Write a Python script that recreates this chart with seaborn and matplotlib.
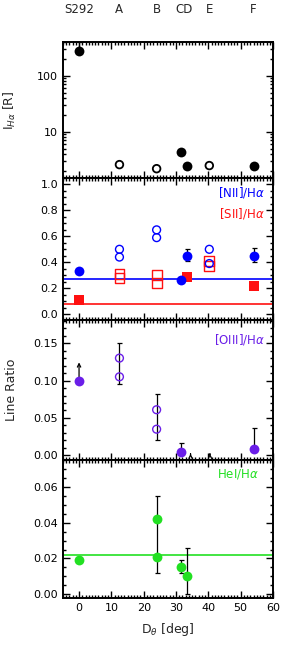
import numpy as np
import matplotlib
matplotlib.use("Agg")
import matplotlib.pyplot as plt
from matplotlib.ticker import MultipleLocator, LogLocator, NullFormatter
import seaborn as sns

# positions (deg) and labels of the regions along the top
region_x = [0, 12.4, 24, 32.4, 40.5, 54]
region_labels = ["S292", "A", "B", "CD", "E", "F"]

# H-alpha intensity [R]
iha_filled_x = [0, 31.4, 33.5, 54]
iha_filled_y = [275, 4.3, 2.5, 2.5]
iha_open_x = [12.5, 24, 40.3]
iha_open_y = [2.6, 2.2, 2.5]

# [NII]/Ha and [SII]/Ha
nii_filled_x = [0, 31.4, 33.5, 54]
nii_filled_y = [0.33, 0.26, 0.45, 0.45]
nii_open_x = [12.5, 12.5, 24, 24, 40.3, 40.3]
nii_open_y = [0.50, 0.44, 0.65, 0.59, 0.50, 0.39]
sii_filled_x = [0, 33.5, 54]
sii_filled_y = [0.11, 0.29, 0.22]
sii_open_x = [12.5, 12.5, 24, 24, 40.3, 40.3]
sii_open_y = [0.31, 0.28, 0.30, 0.24, 0.41, 0.37]
nii_mean = 0.27
sii_mean = 0.08

# [OIII]/Ha
oiii_filled_x = [0, 31.4, 54]
oiii_filled_y = [0.100, 0.004, 0.009]
oiii_open_x = [12.5, 12.5, 24, 24]
oiii_open_y = [0.130, 0.105, 0.061, 0.035]

# HeI/Ha
hei_x = [0, 24, 24, 31.4, 33.5]
hei_y = [0.019, 0.042, 0.021, 0.015, 0.010]
hei_mean = 0.022

BLUE = "#0000ff"
RED = "#ff1010"
PURPLE = "#6a1ee8"
GREEN = "#22e022"

sns.set_style("ticks")
plt.rcParams["font.family"] = ["DejaVu Sans"]
plt.rcParams["font.size"] = 8

fig = plt.figure(figsize=(2.82, 6.45), dpi=100)
left, width = 0.223, 0.745
ax1 = fig.add_axes([left, 0.724, width, 0.211])
ax2 = fig.add_axes([left, 0.504, width, 0.220], sharex=ax1)
ax3 = fig.add_axes([left, 0.287, width, 0.217], sharex=ax1)
ax4 = fig.add_axes([left, 0.073, width, 0.214], sharex=ax1)

for ax in (ax1, ax2, ax3, ax4):
    for sp in ax.spines.values():
        sp.set_linewidth(1.4)
        sp.set_color("black")
    ax.tick_params(which="both", direction="in", top=True, right=True,
                   width=1, labelsize=8, colors="black")
    ax.tick_params(which="major", length=5)
    ax.tick_params(which="minor", length=2.5)
    ax.xaxis.set_major_locator(MultipleLocator(10))
    ax.xaxis.set_minor_locator(MultipleLocator(1))
    ax.set_xlim(-5, 60)

ebkw = dict(fmt="none", ecolor="black", elinewidth=0.9, capsize=1.8, capthick=0.9)

# panel 1: intensity
ax1.set_yscale("log")
ax1.set_ylim(1.5, 400)
ax1.errorbar([0], [275], yerr=[[0], [120]], **ebkw)
sns.scatterplot(x=iha_filled_x, y=iha_filled_y, ax=ax1, color="black", s=50,
                edgecolor="black", linewidth=0, zorder=3)
sns.scatterplot(x=iha_open_x, y=iha_open_y, ax=ax1, marker="o", s=30,
                facecolors="none", edgecolor="black", linewidth=1.3, zorder=3)
ax1.yaxis.set_major_locator(LogLocator(base=10, numticks=5))
ax1.yaxis.set_minor_locator(LogLocator(base=10, subs=np.arange(2, 10), numticks=10))
ax1.yaxis.set_minor_formatter(NullFormatter())
ax1.set_yticks([10, 100])
ax1.set_yticklabels(["10", "100"])
ax1.set_ylabel(r"I$_{H\alpha}$ [R]", fontsize=9)
ax1.yaxis.set_label_coords(-0.215, 0.5)
for xr, lab in zip(region_x, region_labels):
    ax1.text(xr, 1.19, lab, transform=ax1.get_xaxis_transform(), ha="center",
             va="bottom", fontsize=8.5)

# panel 2: [NII]/Ha and [SII]/Ha
ax2.set_ylim(-0.045, 1.05)
ax2.axhline(nii_mean, color=BLUE, lw=1.2, zorder=1)
ax2.axhline(sii_mean, color=RED, lw=1.2, zorder=1)
ax2.errorbar([33.5, 54], [0.45, 0.45], yerr=[[0.04, 0.05], [0.05, 0.06]], **ebkw)
sns.scatterplot(x=sii_open_x, y=sii_open_y, ax=ax2, marker="s", s=50,
                facecolors="none", edgecolor=RED, linewidth=1.0, zorder=3)
sns.scatterplot(x=nii_open_x, y=nii_open_y, ax=ax2, marker="o", s=32,
                facecolors="none", edgecolor=BLUE, linewidth=1.0, zorder=3)
sns.scatterplot(x=sii_filled_x, y=sii_filled_y, ax=ax2, marker="s", s=48,
                color=RED, linewidth=0, zorder=3)
sns.scatterplot(x=nii_filled_x, y=nii_filled_y, ax=ax2, marker="o", s=50,
                color=BLUE, linewidth=0, zorder=4)
ax2.yaxis.set_major_locator(MultipleLocator(0.2))
ax2.yaxis.set_minor_locator(MultipleLocator(0.05))
ax2.yaxis.set_major_formatter(plt.FormatStrFormatter("%.1f"))
ax2.text(0.96, 0.90, r"[NII]/H$\alpha$", transform=ax2.transAxes, ha="right",
         va="center", color=BLUE, fontsize=8.5)
ax2.text(0.96, 0.75, r"[SII]/H$\alpha$", transform=ax2.transAxes, ha="right",
         va="center", color=RED, fontsize=8.5)

# panel 3: [OIII]/Ha
ax3.set_ylim(-0.006, 0.181)
ax3.errorbar([12.4, 24], [0.1225, 0.051], yerr=[[0.0275, 0.031], [0.0275, 0.031]], **ebkw)
ax3.errorbar([31.4, 54], [0.004, 0.009], yerr=[[0, 0], [0.013, 0.028]], **ebkw)
for xa, y0, y1 in [(0, 0.100, 0.128), (34.5, -0.002, 0.006), (40.5, -0.002, 0.006)]:
    ax3.annotate("", xy=(xa, y1), xytext=(xa, y0),
                 arrowprops=dict(arrowstyle="->", color="black", lw=0.9,
                                 mutation_scale=6))
sns.scatterplot(x=oiii_open_x, y=oiii_open_y, ax=ax3, marker="o", s=32,
                facecolors="none", edgecolor=PURPLE, linewidth=1.0, zorder=3)
sns.scatterplot(x=oiii_filled_x, y=oiii_filled_y, ax=ax3, marker="o", s=50,
                color=PURPLE, linewidth=0, zorder=4)
ax3.yaxis.set_major_locator(MultipleLocator(0.05))
ax3.yaxis.set_minor_locator(MultipleLocator(0.01))
ax3.yaxis.set_major_formatter(plt.FormatStrFormatter("%.2f"))
ax3.set_ylabel("Line Ratio", fontsize=9)
ax3.yaxis.set_label_coords(-0.215, 0.5)
ax3.text(0.96, 0.86, r"[OIII]/H$\alpha$", transform=ax3.transAxes, ha="right",
         va="center", color=PURPLE, fontsize=8.5)

# panel 4: HeI/Ha
ax4.set_ylim(-0.002, 0.075)
ax4.axhline(hei_mean, color=GREEN, lw=1.2, zorder=1)
ax4.errorbar([24, 31.4, 33.5], [0.0335, 0.0155, 0.013],
             yerr=[[0.0215, 0.0035, 0.013], [0.0215, 0.0035, 0.013]], **ebkw)
sns.scatterplot(x=hei_x, y=hei_y, ax=ax4, marker="o", s=50, color=GREEN,
                linewidth=0, zorder=4)
ax4.yaxis.set_major_locator(MultipleLocator(0.02))
ax4.yaxis.set_minor_locator(MultipleLocator(0.005))
ax4.yaxis.set_major_formatter(plt.FormatStrFormatter("%.2f"))
ax4.text(0.93, 0.90, r"HeI/H$\alpha$", transform=ax4.transAxes, ha="right",
         va="center", color=GREEN, fontsize=8.5)
ax4.set_xlabel(r"D$_\theta$ [deg]", fontsize=9, labelpad=6)

for ax in (ax1, ax2, ax3):
    plt.setp(ax.get_xticklabels(), visible=False)

fig.savefig("out.png", dpi=100)
